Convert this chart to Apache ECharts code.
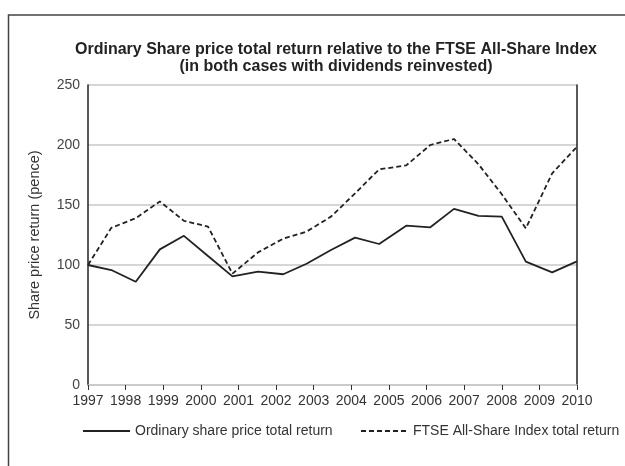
<!DOCTYPE html>
<html>
<head>
<meta charset="utf-8">
<script src="https://cdn.jsdelivr.net/npm/echarts@6/dist/echarts.min.js"></script>
<style>
  html, body { margin: 0; padding: 0; background: #fff; }
  #chart { width: 625px; height: 466px; }
</style>
</head>
<body>
<div id="chart"></div>
<script>
// sample dates (fractional years)
const dates = [1997.0, 1997.62, 1998.27, 1998.91, 1999.55, 2000.19, 2000.84, 2001.52, 2002.19, 2002.81,
  2003.46, 2004.1, 2004.74, 2005.46, 2006.1, 2006.73, 2007.38, 2008.0, 2008.64, 2009.34, 2010.0];
const ordinaryShare = [100, 95.8, 86, 113, 124.3, 107.5, 90.5, 94.4, 92.3, 101,
  112.5, 122.8, 117.5, 132.8, 131.4, 146.8, 141, 140.3, 102.8, 93.8, 103];
const ftseIndex = [100, 131, 139, 153, 136.8, 132, 92.8, 110.5, 122, 127.8,
  140.3, 159.7, 179.7, 183, 200, 205, 184, 159, 130.5, 176.4, 198.6];
const seriesNames = ["Ordinary share price total return", "FTSE All-Share Index total return"];

const font = "Arial, 'Liberation Sans', sans-serif";
const myChart = echarts.init(document.getElementById("chart"));

const pairs = (vals) => vals.map((v, i) => [dates[i], v]);

const legendBase = {
  top: 424,
  padding: 0,
  itemWidth: 47,
  itemHeight: 14,
  itemStyle: { opacity: 0 },
  textStyle: { fontSize: 14, color: "#333", fontFamily: font },
};

const option = {
  animation: false,
  textStyle: { fontFamily: font },
  graphic: [
    {
      type: "rect",
      shape: { x: 8.5, y: 15, width: 700, height: 600 },
      style: { fill: null, stroke: "#444", lineWidth: 1.5 },
      silent: true,
    },
  ],
  title: {
    text: "Ordinary Share price total return relative to the FTSE All-Share Index\n(in both cases with dividends reinvested)",
    left: 331,
    textAlign: "center",
    top: 36,
    textStyle: { fontSize: 16, fontWeight: "bold", color: "#222", lineHeight: 17, fontFamily: font },
  },
  grid: { left: 88, right: 48, top: 85, bottom: 81 },
  legend: [
    { ...legendBase, left: 82, data: [seriesNames[0]] },
    { ...legendBase, left: 360, data: [seriesNames[1]] },
  ],
  xAxis: {
    type: "value",
    min: 1997,
    max: 2010,
    interval: 1,
    axisLine: { show: true, lineStyle: { color: "#c8c8c8", width: 1.5 } },
    axisTick: { show: true, length: 5, lineStyle: { color: "#333", width: 1 } },
    axisLabel: { fontSize: 14, color: "#333", margin: 9, formatter: (v) => String(v) },
    splitLine: { show: false },
  },
  yAxis: [
    {
      type: "value",
      min: 0,
      max: 250,
      interval: 50,
      name: "Share price return (pence)",
      nameLocation: "middle",
      nameGap: 46,
      nameTextStyle: { fontSize: 14.5, color: "#333", fontFamily: font },
      axisLine: { show: true, lineStyle: { color: "#222", width: 1.5 } },
      axisTick: { show: false },
      axisLabel: { fontSize: 14, color: "#444", margin: 8 },
      splitLine: { show: true, lineStyle: { color: "#c8c8c8", width: 1.5 } },
    },
    {
      type: "value",
      position: "right",
      min: 0,
      max: 250,
      interval: 50,
      axisLine: { show: true, lineStyle: { color: "#222", width: 1.5 } },
      axisTick: { show: false },
      axisLabel: { show: false },
      splitLine: { show: false },
    },
  ],
  series: [
    {
      name: seriesNames[0],
      type: "line",
      data: pairs(ordinaryShare),
      symbol: "none",
      lineStyle: { color: "#222", width: 1.8 },
      itemStyle: { color: "#222" },
    },
    {
      name: seriesNames[1],
      type: "line",
      data: pairs(ftseIndex),
      symbol: "none",
      lineStyle: { color: "#222", width: 1.8, type: [5, 3] },
      itemStyle: { color: "#222" },
    },
  ],
};

myChart.setOption(option);
</script>
</body>
</html>
